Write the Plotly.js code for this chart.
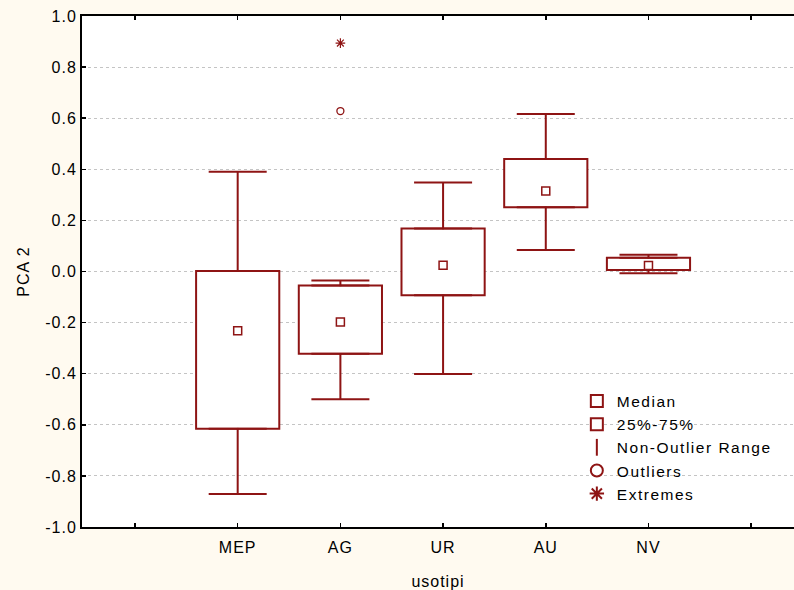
<!DOCTYPE html>
<html>
<head>
<meta charset="utf-8">
<script src="https://cdn.plot.ly/plotly-3.0.1.min.js"></script>
<style>
html,body{margin:0;padding:0;background:#FFFAF0;}
#chart .xtick text, #chart .ytick text, #chart .g-xtitle text, #chart .g-ytitle text { letter-spacing: 1px; }
#chart .legendtext { letter-spacing: 1.5px; }
#chart .legend .scrollbox { clip-path: none !important; }
</style>
</head>
<body>
<div id="chart" style="width:794px;height:590px;"></div>
<script>
// ---- data ----
const categories = ['MEP', 'AG', 'UR', 'AU', 'NV'];
const whiskerLow  = [-0.871, -0.500, -0.401, 0.084, -0.007];
const q1          = [-0.615, -0.322, -0.093, 0.251,  0.006];
const medians     = [-0.232, -0.198,  0.024, 0.315,  0.023];
const q3          = [ 0.002, -0.055,  0.168, 0.440,  0.054];
const whiskerHigh = [ 0.390, -0.035,  0.348, 0.616,  0.066];
const outlierCats = ['AG'];
const outlierVals = [0.628];
const extremeCats = ['AG'];
const extremeVals = [0.894];
const yTickVals = [-1.0, -0.8, -0.6, -0.4, -0.2, 0.0, 0.2, 0.4, 0.6, 0.8, 1.0];

const RED = '#8E1414';
const FONT = 'Liberation Sans, Arial, sans-serif';
const xPos = categories.map((c, i) => i + 1);
const xOf = c => categories.indexOf(c) + 1;

const traces = [
  {
    type: 'bar', name: '25%-75%', legendrank: 2, legendgroup: 'b',
    x: xPos, base: q1, y: q3.map((v, i) => v - q1[i]),
    width: 0.81,
    marker: {color: '#FFFFFF', line: {color: RED, width: 2}},
    hoverinfo: 'skip'
  },
  {
    type: 'scatter', mode: 'markers', name: 'Non-Outlier Range', legendrank: 3, legendgroup: 'c',
    x: xPos, y: q3,
    marker: {symbol: 'line-ns-open', size: 1, color: RED, line: {color: RED, width: 2}},
    error_y: {type: 'data', symmetric: false,
              array: whiskerHigh.map((v, i) => v - q3[i]),
              arrayminus: q3.map(() => 0),
              width: 29, thickness: 2, color: RED},
    hoverinfo: 'skip'
  },
  {
    type: 'scatter', mode: 'markers', name: 'Non-Outlier Range', showlegend: false, legendgroup: 'c',
    x: xPos, y: q1,
    marker: {symbol: 'line-ns-open', size: 1, color: RED, line: {color: RED, width: 2}},
    error_y: {type: 'data', symmetric: false,
              array: q1.map(() => 0),
              arrayminus: q1.map((v, i) => v - whiskerLow[i]),
              width: 29, thickness: 2, color: RED},
    hoverinfo: 'skip'
  },
  {
    type: 'scatter', mode: 'markers', name: 'Median', legendrank: 1, legendgroup: 'a',
    x: xPos, y: medians,
    marker: {symbol: 'square-open', size: 8, color: RED, line: {color: RED, width: 1.5}}
  },
  {
    type: 'scatter', mode: 'markers', name: 'Outliers', legendrank: 4, legendgroup: 'd',
    x: outlierCats.map(xOf), y: outlierVals,
    marker: {symbol: 'circle-open', size: 7, color: RED, line: {color: RED, width: 1.3}}
  },
  {
    type: 'scatter', mode: 'markers', name: 'Extremes', legendrank: 5, legendgroup: 'e',
    x: extremeCats.map(xOf), y: extremeVals,
    marker: {symbol: 'asterisk-open', size: 8, color: RED, line: {color: RED, width: 1.2}}
  }
];

const layout = {
  width: 794, height: 590,
  paper_bgcolor: '#FFFAF0', plot_bgcolor: '#FFFFFF',
  margin: {l: 82, r: 0, t: 16, b: 63},
  font: {family: FONT, size: 16, color: '#000000'},
  barmode: 'overlay',
  showlegend: true,
  legend: {
    x: 0.695, y: 0.279, xanchor: 'left', yanchor: 'top',
    bgcolor: 'rgba(0,0,0,0)', borderwidth: 0,
    font: {family: FONT, size: 15.5, color: '#000000'},
    itemsizing: 'constant', traceorder: 'grouped', tracegroupgap: 0
  },
  xaxis: {
    range: [-0.516, 6.417],
    tickmode: 'array',
    tickvals: [0, 1, 2, 3, 4, 5, 6],
    ticktext: ['', ...categories, ''],
    ticks: 'inside', ticklen: 4, tickwidth: 1.5, tickcolor: '#000000',
    showline: true, linecolor: '#000000', linewidth: 2, mirror: 'ticks',
    showgrid: false, zeroline: false,
    ticklabelstandoff: 5,
    tickfont: {family: FONT, size: 16},
    title: {text: 'usotipi', standoff: 21, font: {family: FONT, size: 16}}
  },
  yaxis: {
    range: [-1.0, 1.0],
    tickmode: 'array', tickvals: yTickVals,
    ticktext: yTickVals.map(v => v.toFixed(1)),
    ticks: 'inside', ticklen: 4, tickwidth: 1.5, tickcolor: '#000000',
    showline: true, linecolor: '#000000', linewidth: 2,
    showgrid: true, gridcolor: '#C4C4C4', griddash: 'dot', gridwidth: 1,
    zeroline: false,
    ticklabelstandoff: 0,
    tickfont: {family: FONT, size: 16},
    title: {text: 'PCA 2', standoff: 16, font: {family: FONT, size: 16}}
  },
  annotations: [{
    text: '<b>Boxplot (Data Table 10v*136c)</b>',
    xref: 'paper', yref: 'paper', x: -0.052, y: 1,
    xanchor: 'left', yanchor: 'bottom', yshift: 14,
    showarrow: false, font: {family: FONT, size: 17, color: '#000000'}
  }]
};

Plotly.newPlot('chart', traces, layout, {displayModeBar: false, staticPlot: true});
</script>
</body>
</html>
